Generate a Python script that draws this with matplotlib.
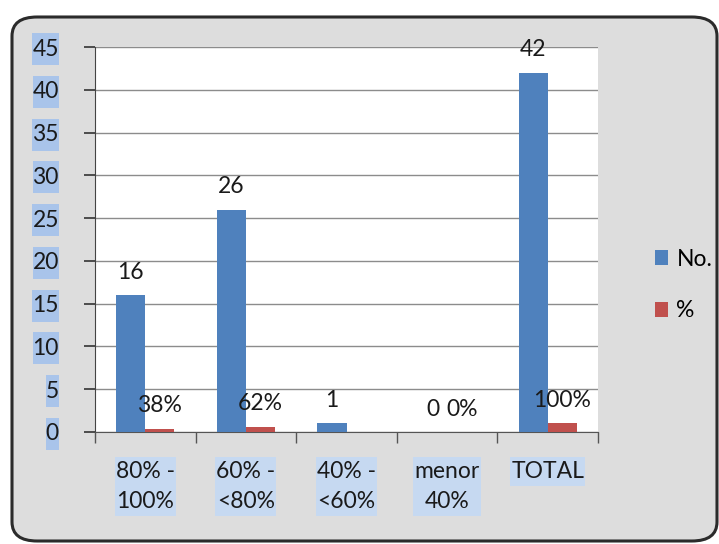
import matplotlib
matplotlib.use("Agg")
import matplotlib.pyplot as plt
from matplotlib.patches import FancyBboxPatch, Rectangle
import numpy as np

categories = ["80% -\n100%", "60% -\n<80%", "40% -\n<60%", "menor\n40%", "TOTAL"]
no_values = [16, 26, 1, 0, 42]
pct_values = [0.38, 0.62, 0.0, 0.0, 1.0]
no_labels = ["16", "26", "1", "0", "42"]
pct_labels = ["38%", "62%", "", "0%", "100%"]
series_names = ["No.", "%"]
yticks = list(range(0, 46, 5))

plt.rcParams['font.family'] = ['Lato', 'DejaVu Sans']
FS = 16.5

W, H = 719, 544
fig = plt.figure(figsize=(W / 100, H / 100), dpi=100)
fig.patch.set_facecolor("white")

# marble-ish panel with rounded border
panel = FancyBboxPatch((12 / W, 1 - 541 / H), (705 / W), (524 / H),
                       boxstyle="round,pad=0,rounding_size=0.035",
                       transform=fig.transFigure, facecolor="#dddddd",
                       edgecolor="#2b2b2b", linewidth=2.2, zorder=-2)
fig.patches.append(panel)

ax = fig.add_axes([95 / W, 1 - 432 / H, 503 / W, 385 / H])
ax.set_zorder(3)
ax.set_facecolor("white")

x = np.arange(len(categories))
w = 0.29
b1 = ax.bar(x - w / 2, no_values, w, color="#4F81BD", label=series_names[0], zorder=3)
b2 = ax.bar(x + w / 2, pct_values, w, color="#C0504D", label=series_names[1], zorder=3)

ax.bar_label(b1, labels=no_labels, padding=9, fontsize=FS, color="#1a1a1a")
ax.bar_label(b2, labels=pct_labels, padding=9, fontsize=FS, color="#1a1a1a")

ax.set_xlim(-0.5, len(categories) - 0.5)
ax.set_ylim(0, 45)
ax.set_yticks(yticks)
ax.set_yticklabels([str(t) for t in yticks], fontsize=FS, color="#1a1a1a")
ax.yaxis.grid(True, color="#8c8c8c", linewidth=1.0, zorder=0)
ax.set_axisbelow(True)

ax.set_xticks(x)
ax.set_xticklabels(categories, fontsize=FS, color="#1a1a1a", linespacing=1.5)
ax.set_xticks(np.arange(-0.5, len(categories)), minor=True)
ax.tick_params(axis="x", which="major", length=0, pad=21)
ax.tick_params(axis="x", which="minor", length=8, width=1, color="#555555", direction="out")
ax.tick_params(axis="y", length=8, width=1.2, color="#333333", pad=18)

for s in ["top", "right"]:
    ax.spines[s].set_visible(False)
ax.spines["left"].set_color("#444444")
ax.spines["bottom"].set_color("#555555")

leg = fig.legend(handles=[b1, b2], labels=series_names, loc="center left",
                 bbox_to_anchor=(634 / W, 1 - 285 / H), frameon=False,
                 fontsize=FS, handlelength=0.6, handleheight=0.6,
                 handletextpad=0.35, labelspacing=1.35)

# highlight boxes behind tick labels
fig.canvas.draw()
r = fig.canvas.get_renderer()
inv = fig.transFigure.inverted()
def box_behind(lbl, padx, pady, color, fixed_h=None):
    bb = lbl.get_window_extent(r)
    y0p, y1p = bb.y0 - pady, bb.y1 + pady
    if fixed_h is not None:
        cy = 0.5 * (bb.y0 + bb.y1)
        y0p, y1p = cy - fixed_h / 2, cy + fixed_h / 2
    (x0, y0) = inv.transform((bb.x0 - padx, y0p))
    (x1, y1) = inv.transform((bb.x1 + padx, y1p))
    fig.patches.append(Rectangle((x0, y0), x1 - x0, y1 - y0, transform=fig.transFigure,
                                 facecolor=color, edgecolor="none", zorder=-1))

for lbl in ax.get_yticklabels():
    box_behind(lbl, 0, 0, "#a9c4ea", fixed_h=32)
for lbl in ax.get_xticklabels():
    box_behind(lbl, 1, 4, "#c6d9f1")

fig.savefig("out.png", dpi=100)
